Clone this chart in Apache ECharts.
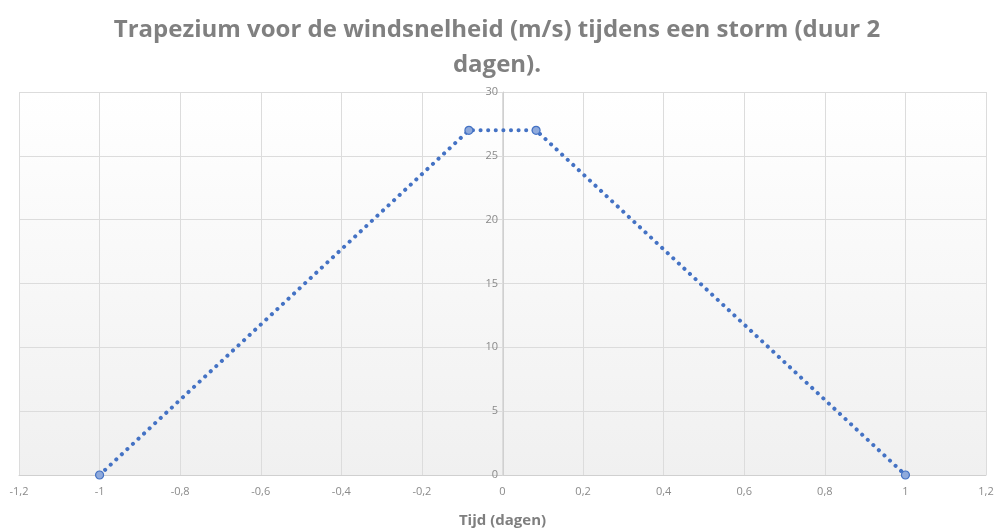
<!DOCTYPE html>
<html><head><meta charset="utf-8">
<script src="https://cdn.jsdelivr.net/npm/echarts@6/dist/echarts.min.js"></script>
<style>html,body{margin:0;padding:0;background:#fff}#c{width:994px;height:528px}</style>
</head><body><div id="c"></div>
<script>
const titleText = "Trapezium voor de windsnelheid (m/s) tijdens een storm (duur 2\ndagen).";
const xAxisName = "Tijd (dagen)";
const timeDays = [-1, -1/12, 1/12, 1];
const windSpeed = [0, 27, 27, 0];
const xTicks = [-1.2, 1.2, 0.2];
const yTicks = [0, 30, 5];

const chart = echarts.init(document.getElementById('c'));
const fmt = v => { const r = Math.round(v*10)/10; return String(r).replace('.', ','); };
chart.setOption({
  backgroundColor: '#fff',
  animation: false,
  title: {
    text: titleText, left: 'center', top: 8,
    textStyle: { fontFamily: 'Open Sans', fontSize: 24, fontWeight: 'bold', color: '#808080', lineHeight: 35 }
  },
  grid: {
    left: 19, right: 8, top: 92, bottom: 53, show: true, borderWidth: 0,
    outerBoundsMode: 'none', containLabel: false,
    backgroundColor: new echarts.graphic.LinearGradient(0,0,0,1,[{offset:0,color:'#ffffff'},{offset:1,color:'#f0f0f0'}])
  },
  xAxis: {
    type: 'value', min: xTicks[0], max: xTicks[1], interval: xTicks[2],
    name: xAxisName, nameLocation: 'middle', nameGap: 38,
    nameTextStyle: { fontFamily: 'Open Sans', fontSize: 15, fontWeight: 'bold', color: '#7f7f7f' },
    axisLine: { onZero: false, lineStyle: { color: '#d0d0d0', width: 1 } },
    axisTick: { show: false },
    axisLabel: { formatter: fmt, color: '#8a8a8a', fontFamily: 'Open Sans', fontSize: 11, margin: 11 },
    splitLine: { show: true, lineStyle: { color: '#dcdcdc', width: 1 } }
  },
  yAxis: {
    type: 'value', min: yTicks[0], max: yTicks[1], interval: yTicks[2],
    position: 'left', offset: -484,
    axisLine: { show: true, onZero: false, lineStyle: { color: '#d0d0d0', width: 1 } },
    axisTick: { show: false },
    axisLabel: { color: '#8a8a8a', fontFamily: 'Open Sans', fontSize: 11, margin: 5 },
    splitLine: { show: true, lineStyle: { color: '#dcdcdc', width: 1 } }
  },
  series: [{
    type: 'line', data: timeDays.map((t,i)=>[t, windSpeed[i]]),
    symbol: 'circle', symbolSize: 8,
    itemStyle: { color: '#8faadc', borderColor: '#4472c4', borderWidth: 1.2 },
    lineStyle: { color: '#4472c4', width: 4, type: [0.1, 7.5], cap: 'round' }
  }]
});
</script></body></html>
